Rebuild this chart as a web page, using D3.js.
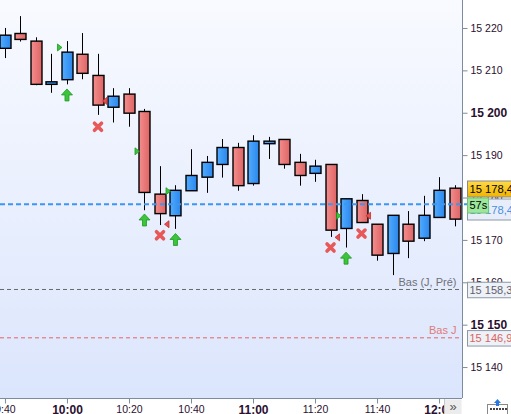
<!DOCTYPE html>
<html><head><meta charset="utf-8">
<script src="https://cdn.jsdelivr.net/npm/d3@7/dist/d3.min.js"></script>
<style>html,body{margin:0;padding:0;background:#fff;}svg{display:block;font-family:"Liberation Sans",Arial,sans-serif;}</style>
</head><body>
<script>
// ---- data ----
const times = ["9:40","9:45","9:50","9:55","10:00","10:05","10:10","10:15","10:20","10:25",
  "10:30","10:35","10:40","10:45","10:50","10:55","11:00","11:05","11:10","11:15",
  "11:20","11:25","11:30","11:35","11:40","11:45","11:50","11:55","12:00","12:05"];
const open  = [15215.2,15218.7,15216.9,15206.7,15207.8,15213.8,15208.8,15201.3,15204.4,15200.3,
  15180.8,15175.7,15181.6,15184.8,15187.8,15191.8,15183.3,15192.7,15193.7,15188.3,
  15185.7,15187.8,15172.7,15179.3,15173.7,15166.8,15173.7,15170.4,15175.3,15182.2];
const high  = [15220.0,15222.8,15217.8,15213.9,15216.9,15218.8,15213.9,15205.8,15205.8,15200.9,
  15187.4,15182.9,15191.4,15189.8,15193.8,15192.9,15194.7,15194.3,15193.7,15190.3,
  15188.9,15187.8,15179.7,15180.8,15173.7,15175.8,15176.8,15180.4,15184.8,15182.9];
const low   = [15212.9,15216.8,15206.5,15204.7,15206.7,15207.9,15199.5,15197.7,15196.7,15177.0,
  15173.5,15172.6,15181.6,15181.1,15184.7,15181.6,15182.8,15189.1,15186.8,15182.8,
  15183.7,15170.7,15168.2,15174.1,15165.1,15161.7,15165.7,15169.7,15175.3,15173.2];
const close = [15218.3,15217.3,15206.7,15207.3,15214.3,15209.3,15201.8,15203.9,15199.9,15181.2,
  15176.2,15181.7,15185.2,15188.3,15191.8,15182.8,15193.3,15193.3,15187.8,15185.2,
  15187.4,15172.3,15179.7,15174.1,15166.4,15175.8,15169.7,15175.8,15181.7,15174.9];

const buyIdx = [4, 9, 11, 22];
const buyEntryPrice = [15215.4, 15190.9, 15181.5, 15175.7];
const buyArrowPrice = [15204.2, 15174.7, 15170.1, 15165.7];
const sellIdx = [6, 10, 21, 23];
const sellExitPrice = [15202.8, 15173.7, 15170.6, 15175.7];
const sellCrossPrice = [15196.7, 15171.1, 15168.2, 15171.5];

const priceTicks = [15140,15150,15160,15170,15180,15190,15200,15210,15220];
const boldPriceTicks = [15150,15200];
const timeTicks = ["9:40","10:00","10:20","10:40","11:00","11:20","11:40","12:00"];

const lastPrice = 15178.4;
const lastLabel = "15 178,4";
const countdown = "57s";
const lowPrev = 15158.3, lowPrevLabel = "15 158,3", lowPrevName = "Bas (J, Pré)";
const lowDay = 15146.9, lowDayLabel = "15 146,9", lowDayName = "Bas J";

// ---- layout ----
const W = 511, H = 414, plotR = 462, plotB = 398;
const toMin = s => { const [h, m] = s.split(":").map(Number); return h * 60 + m; };
const x = d3.scaleLinear().domain([578.4, 727.4]).range([0, plotR]);
const y = d3.scaleLinear().domain([15132.7, 15226.6]).range([plotB, 0]);

const svg = d3.select("body").append("svg").attr("width", W).attr("height", H);
const defs = svg.append("defs");
const bg = defs.append("linearGradient").attr("id","bg").attr("x1",0).attr("y1",0).attr("x2",0).attr("y2",1);
bg.append("stop").attr("offset","0%").attr("stop-color","#f8faff");
bg.append("stop").attr("offset","100%").attr("stop-color","#dbe5fc");
const gr = defs.append("linearGradient").attr("id","red").attr("x1",0).attr("y1",0).attr("x2",1).attr("y2",0);
gr.append("stop").attr("offset","0%").attr("stop-color","#f48e8e");
gr.append("stop").attr("offset","100%").attr("stop-color","#de6464");
const gb = defs.append("linearGradient").attr("id","blue").attr("x1",0).attr("y1",0).attr("x2",1).attr("y2",0);
gb.append("stop").attr("offset","0%").attr("stop-color","#52acff");
gb.append("stop").attr("offset","100%").attr("stop-color","#2a86ec");
const gy = defs.append("linearGradient").attr("id","yel").attr("x1",0).attr("y1",0).attr("x2",0).attr("y2",1);
gy.append("stop").attr("offset","0%").attr("stop-color","#ffd94a");
gy.append("stop").attr("offset","100%").attr("stop-color","#f0b400");
defs.append("clipPath").attr("id","plot").append("rect").attr("x",0).attr("y",0).attr("width",plotR).attr("height",plotB);

svg.append("rect").attr("x",0).attr("y",0).attr("width",plotR).attr("height",plotB).attr("fill","url(#bg)");

const plot = svg.append("g").attr("clip-path","url(#plot)");

// reference lines
plot.append("line").attr("x1",0).attr("x2",plotR).attr("y1",y(lowPrev)).attr("y2",y(lowPrev))
  .attr("stroke","#6a6a6a").attr("stroke-dasharray","4,3").attr("stroke-width",1);
plot.append("line").attr("x1",0).attr("x2",plotR).attr("y1",y(lowDay)).attr("y2",y(lowDay))
  .attr("stroke","#e46464").attr("stroke-dasharray","4,3").attr("stroke-width",1);
plot.append("text").attr("x",456.5).attr("y",y(lowPrev)-3.5).attr("text-anchor","end")
  .attr("font-size","11px").attr("fill","#707078").text(lowPrevName);
plot.append("text").attr("x",456.5).attr("y",y(lowDay)-3.5).attr("text-anchor","end")
  .attr("font-size","11px").attr("fill","#e07a7a").text(lowDayName);

// candles
const data = times.map((t,i)=>({t:toMin(t),o:open[i],h:high[i],l:low[i],c:close[i]}));
const cg = plot.append("g");
data.forEach(d=>{
  const cx = Math.round(x(d.t)) + 0.5;
  cg.append("line").attr("x1",cx).attr("x2",cx).attr("y1",y(d.h)).attr("y2",y(d.l))
    .attr("stroke","#000").attr("stroke-width",1);
  const top = y(Math.max(d.o,d.c)), bot = y(Math.min(d.o,d.c));
  cg.append("rect").attr("x",cx-5.5).attr("width",11).attr("y",top).attr("height",Math.max(bot-top,1.5))
    .attr("fill", d.c>=d.o ? "url(#blue)" : "url(#red)").attr("stroke","#000").attr("stroke-width",1.4);
});

// current price line
svg.append("line").attr("x1",0).attr("x2",467).attr("y1",y(lastPrice)).attr("y2",y(lastPrice))
  .attr("stroke","#3d96f0").attr("stroke-width",2).attr("stroke-dasharray","5,3");

// trade markers
const mg = plot.append("g");
buyIdx.forEach((idx,k)=>{
  const cx = x(data[idx].t), py = y(buyEntryPrice[k]);
  mg.append("path").attr("d",`M${cx-9.5},${py-3.5}L${cx-5},${py}L${cx-9.5},${py+3.5}Z`)
    .attr("fill","#3cc43c").attr("stroke","#1e9a1e").attr("stroke-width",0.8);
  const ay = y(buyArrowPrice[k]), t = ay-6;
  mg.append("path").attr("d",`M${cx},${t}L${cx+5.5},${t+6}L${cx+2},${t+6}L${cx+2},${t+12}L${cx-2},${t+12}L${cx-2},${t+6}L${cx-5.5},${t+6}Z`)
    .attr("fill","#3cc43c").attr("stroke","#1e9a1e").attr("stroke-width",0.8);
});
sellIdx.forEach((idx,k)=>{
  const cx = x(data[idx].t), py = y(sellExitPrice[k]);
  mg.append("path").attr("d",`M${cx+9},${py-3.5}L${cx+4.5},${py}L${cx+9},${py+3.5}Z`)
    .attr("fill","#e85050").attr("stroke","#c23030").attr("stroke-width",0.8);
  const xy = y(sellCrossPrice[k]);
  mg.append("path").attr("d",`M${cx-3.5},${xy-3.5}L${cx+3.5},${xy+3.5}M${cx+3.5},${xy-3.5}L${cx-3.5},${xy+3.5}`)
    .attr("stroke","#e85858").attr("stroke-width",3.6).attr("stroke-linecap","round");
});

// axes
const fmtP = v => Math.floor(v/1000) + " " + String(v%1000).padStart(3,"0");
const yAxis = d3.axisRight(y).tickValues(priceTicks).tickSize(5).tickPadding(3).tickFormat(fmtP);
const ya = svg.append("g").attr("transform",`translate(${plotR+0.5},0)`).call(yAxis);
ya.select(".domain").attr("stroke","#7d8c9c").attr("d",`M0,0V${plotB}`);
ya.selectAll(".tick line").attr("stroke","#7d8c9c");
ya.selectAll(".tick text").attr("fill","#2a1030").attr("font-family","Liberation Sans, Arial, sans-serif")
  .attr("font-size", d => boldPriceTicks.includes(d) ? "12px" : "10.5px")
  .attr("font-weight", d => boldPriceTicks.includes(d) ? "bold" : "normal");

const xAxis = d3.axisBottom(x).tickValues(timeTicks.map(toMin)).tickSize(5).tickPadding(2)
  .tickFormat(v => { const h = Math.floor(v/60), m = v%60; return h + ":" + String(m).padStart(2,"0"); });
const xa = svg.append("g").attr("transform",`translate(0,${plotB+0.5})`).call(xAxis);
xa.select(".domain").attr("stroke","#7d8c9c").attr("d",`M0,0H${plotR}`);
xa.selectAll(".tick line").attr("stroke","#7d8c9c");
xa.selectAll(".tick text").attr("fill","#2a1030").attr("font-family","Liberation Sans, Arial, sans-serif")
  .attr("font-size", d => d%60===0 ? "12px" : "10.5px")
  .attr("font-weight", d => d%60===0 ? "bold" : "normal");

// right-side labels
function box(yc, h, fill, stroke, txt, tcol, fs, w){
  svg.append("rect").attr("x",467.5).attr("y",yc-h/2).attr("width",w||50).attr("height",h)
    .attr("fill",fill).attr("stroke",stroke).attr("stroke-width",1);
  svg.append("text").attr("x",469.5).attr("y",yc).attr("dy","0.36em").attr("font-size",fs||"11px")
    .attr("fill",tcol).text(txt);
}
box(y(lowPrev)+0.5, 15.5, "#eef1f6", "#8a98a8", lowPrevLabel, "#5e6070", "11px");
box(y(lowDay)+0.5, 15.5, "#eef1f6", "#8a98a8", lowDayLabel, "#d86464", "11px");
box(189, 16, "url(#yel)", "#8a8a8a", lastLabel, "#000", "11.2px");
box(209.5, 21, "#e8eef9", "#8a98a8", lastLabel, "#4a8fe0", "11.2px");
// countdown
svg.append("rect").attr("x",467.5).attr("y",198).attr("width",21).attr("height",15)
  .attr("fill","#9be79b").attr("stroke","#74c474");
svg.append("text").attr("x",469.5).attr("y",205.5).attr("dy","0.36em").attr("font-size","11px").attr("fill","#000").text(countdown);

// scroll button
svg.append("rect").attr("x",444.5).attr("y",399.5).attr("width",17).attr("height",15).attr("fill","#ececec");
svg.append("line").attr("x1",444.5).attr("x2",444.5).attr("y1",399).attr("y2",414).attr("stroke","#c8c8c8");
svg.append("text").attr("x",453).attr("y",411).attr("text-anchor","middle").attr("font-size","13px").attr("fill","#555").text("»");

// corner icon
svg.append("rect").attr("x",487.5).attr("y",404.5).attr("width",20).attr("height",10).attr("fill","#fff").attr("stroke","#888");
svg.append("path").attr("d","M497.5,399L501,403H499V406H496V403H494Z").attr("fill","#2a7ae0");
for(let i=0;i<6;i++){ svg.append("rect").attr("x",490+i*3).attr("y",408).attr("width",2).attr("height",2).attr("fill","#444"); }
</script>
</body></html>
